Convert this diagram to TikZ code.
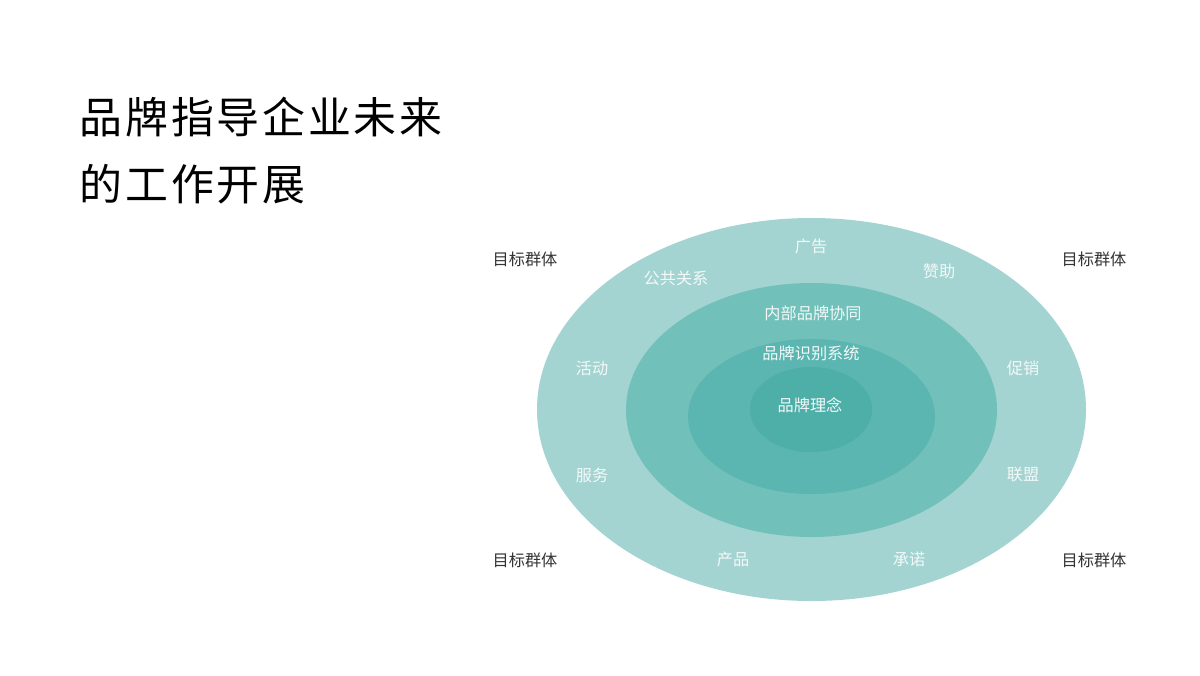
\documentclass[tikz,border=0pt]{standalone}
\usepackage{fontspec}
\setmainfont{Liberation Serif}
\newfontfamily\cjk{Noto Sans CJK SC}
\definecolor{ringA}{HTML}{A4D4D1}
\definecolor{ringB}{HTML}{72C0BA}
\definecolor{ringC}{HTML}{5BB5B0}
\definecolor{ringD}{HTML}{4EAEA8}
\definecolor{lbl}{HTML}{F2F9F8}
\definecolor{dark}{HTML}{333333}
\newcommand{\tk}{\kern0.8pt}
\begin{document}
\begin{tikzpicture}[x=0.01cm,y=-0.01cm,
  inlab/.style={font=\cjk\fontsize{4.6pt}{5.5pt}\selectfont, text=lbl, inner sep=0pt},
  outlab/.style={font=\cjk\fontsize{4.6pt}{5.5pt}\selectfont, text=dark, inner sep=0pt},
  title/.style={font=\cjk\fontsize{12.2pt}{15pt}\selectfont, text=black, inner sep=0pt, anchor=west}]
\fill[white] (0,0) rectangle (1200,675);
\useasboundingbox (0,0) rectangle (1200,675);
% rings
\fill[ringA] (811.5,409.5) ellipse [x radius=274.5, y radius=191.5];
\fill[ringB] (811.5,410) ellipse [x radius=185.5, y radius=127];
\fill[ringC] (811.5,416.5) ellipse [x radius=123.5, y radius=77.5];
\fill[ringD] (811,409.5) ellipse [x radius=61, y radius=42.5];
% title
\node[title] (t1) at (79,117) {品\tk 牌\tk 指\tk 导\tk 企\tk 业\tk 未\tk 来};
\node[title] (t2) at (79,184) {的\tk 工\tk 作\tk 开\tk 展};
% inner labels
\node[inlab] (l1) at (811,246) {广告};
\node[inlab] (l2) at (939,271) {赞助};
\node[inlab] (l3) at (676,278) {公共关系};
\node[inlab] (l4) at (813,313) {内部品牌协同};
\node[inlab] (l5) at (811,353) {品牌识别系统};
\node[inlab] (l6) at (592,368) {活动};
\node[inlab] (l7) at (1023,368) {促销};
\node[inlab] (l8) at (810,405) {品牌理念};
\node[inlab] (l9) at (592,475) {服务};
\node[inlab] (l10) at (1023,475) {联盟};
\node[inlab] (l11) at (733,559) {产品};
\node[inlab] (l12) at (909,559) {承诺};
% target groups
\node[outlab] (g1) at (525,259) {目标群体};
\node[outlab] (g2) at (1094,259) {目标群体};
\node[outlab] (g3) at (525,560) {目标群体};
\node[outlab] (g4) at (1094,560) {目标群体};
\end{tikzpicture}
\end{document}
